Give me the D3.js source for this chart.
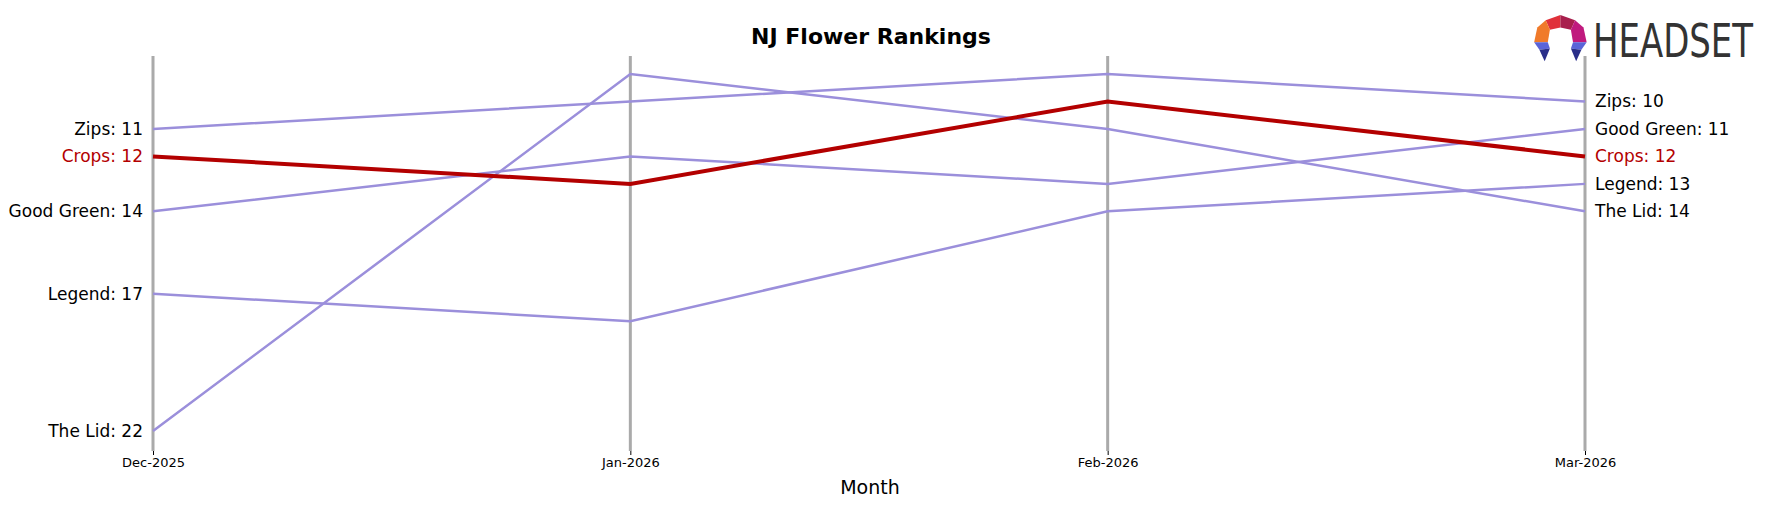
<!DOCTYPE html>
<html><head><meta charset="utf-8">
<script src="https://cdn.jsdelivr.net/npm/d3@7"></script>
<style>body{margin:0;background:#fff}svg{font-family:"DejaVu Sans",sans-serif}</style>
</head><body><svg id="c" width="1769" height="507"></svg>
<script>
const months=["Dec-2025","Jan-2026","Feb-2026","Mar-2026"];
const brands=["Zips","Crops","Good Green","Legend","The Lid"];
const zips=[11,10,9,10];
const crops=[12,13,10,12];
const goodGreen=[14,12,13,11];
const legend=[17,18,14,13];
const theLid=[22,9,11,14];
const series=[zips,crops,goodGreen,legend,theLid];
const highlight="Crops";

const svg=d3.select("#c");
const x=d3.scalePoint().domain(months).range([153,1585]);
const y=d3.scaleLinear().domain([10,22]).range([101.5,431]);

months.forEach(m=>{
  svg.append("line").attr("x1",x(m)).attr("x2",x(m)).attr("y1",56).attr("y2",451)
    .attr("stroke","#aaa").attr("stroke-width",3);
});
const ax=svg.append("g").attr("transform","translate(0,451)").call(d3.axisBottom(x).tickSize(4).tickSizeOuter(0));
ax.select(".domain").remove();
ax.selectAll("text").attr("font-size",13).attr("font-family","DejaVu Sans").attr("fill","#000");
ax.selectAll("line").attr("stroke","#000");

const line=d3.line().x((d,i)=>x(months[i])).y(d=>y(d));
const order=brands.map((b,i)=>i).sort((a,b)=>(brands[a]===highlight)-(brands[b]===highlight));
order.forEach(i=>{
  const hl=brands[i]===highlight;
  svg.append("path").attr("d",line(series[i])).attr("fill","none")
    .attr("stroke",hl?"#b30000":"#9b8fdb").attr("stroke-width",hl?4:2.5);
});
brands.forEach((b,i)=>{
  const hl=b===highlight, s=series[i];
  svg.append("text").attr("x",x(months[0])-10).attr("y",y(s[0])).attr("dy","0.35em")
    .attr("text-anchor","end").attr("font-size",17).attr("fill",hl?"#b30000":"#000").text(b+": "+s[0]);
  svg.append("text").attr("x",x(months[3])+10).attr("y",y(s[3])).attr("dy","0.35em")
    .attr("text-anchor","start").attr("font-size",17).attr("fill",hl?"#b30000":"#000").text(b+": "+s[3]);
});
svg.append("text").attr("x",871).attr("y",44).attr("text-anchor","middle").attr("font-size",22)
  .attr("font-weight","bold").text("NJ Flower Rankings");
svg.append("text").attr("x",870).attr("y",494).attr("text-anchor","middle").attr("font-size",19).text("Month");

// logo
const lg=svg.append("g").attr("transform","translate(1531,15) scale(1.05)");
[["#e0313a","M14,5 L28,0 L28,12 L18,14Z"],["#a81f4d","M28,0 L42,5 L38,14 L28,12Z"],
 ["#f07a2a","M14,5 L18,14 L16,26 L3,26 L6,12Z"],["#c01a7e","M42,5 L50,12 L53,26 L40,26 L38,14Z"],
 ["#5a64d8","M3,26 L16,26 L18,32 L8,33Z"],["#5a64d8","M40,26 L53,26 L48,33 L38,32Z"],
 ["#2a2f8a","M8,33 L18,32 L13,44Z"],["#2a2f8a","M38,32 L48,33 L43,44Z"]]
 .forEach(p=>lg.append("path").attr("d",p[1]).attr("fill",p[0]));
svg.append("text").attr("x",1593).attr("y",57).attr("font-size",46).attr("fill","#333")
  .attr("font-family","Liberation Sans Narrow, DejaVu Sans Condensed, sans-serif")
  .attr("textLength",160).attr("lengthAdjust","spacingAndGlyphs").text("HEADSET");
</script></body></html>
